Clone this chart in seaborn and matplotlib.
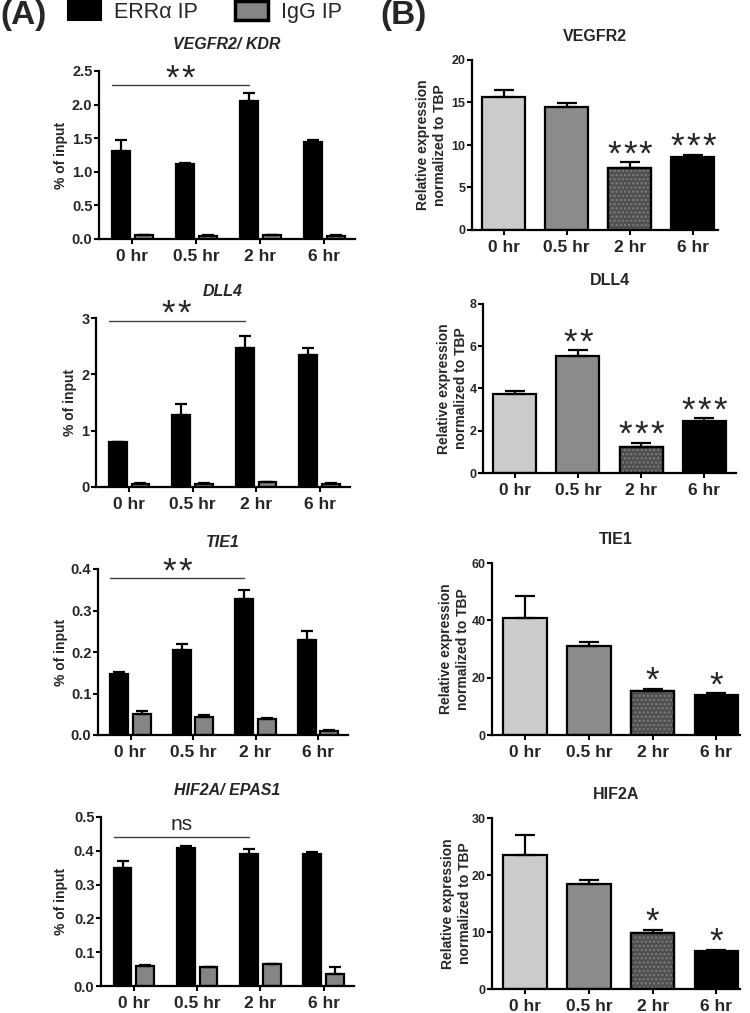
import numpy as np
import pandas as pd
import matplotlib
matplotlib.use("Agg")
import matplotlib.pyplot as plt
import matplotlib.patches as mpatches
from matplotlib.patches import Rectangle
from matplotlib.ticker import FormatStrFormatter
import seaborn as sns

# ---------------- data ----------------
times = ["0 hr", "0.5 hr", "2 hr", "6 hr"]
series = ["ERR\u03b1 IP", "IgG IP"]

# Panel A (ChIP, % of input)
chip_titles = ["VEGFR2/ KDR", "DLL4", "TIE1", "HIF2A/ EPAS1"]
vegfr2_errA = [1.31, 1.12, 2.05, 1.44]
vegfr2_errA_sem = [0.16, 0.01, 0.12, 0.04]
vegfr2_igg = [0.055, 0.045, 0.055, 0.050]
vegfr2_igg_sem = [0.008, 0.008, 0.008, 0.008]

dll4_errA = [0.79, 1.28, 2.47, 2.35]
dll4_errA_sem = [0.01, 0.19, 0.21, 0.12]
dll4_igg = [0.06, 0.06, 0.08, 0.06]
dll4_igg_sem = [0.01, 0.01, 0.01, 0.01]

tie1_errA = [0.146, 0.205, 0.328, 0.229]
tie1_errA_sem = [0.007, 0.014, 0.022, 0.022]
tie1_igg = [0.050, 0.044, 0.038, 0.010]
tie1_igg_sem = [0.009, 0.004, 0.002, 0.003]

hif2a_errA = [0.349, 0.407, 0.390, 0.390]
hif2a_errA_sem = [0.020, 0.008, 0.014, 0.007]
hif2a_igg = [0.058, 0.055, 0.064, 0.036]
hif2a_igg_sem = [0.003, 0.001, 0.002, 0.019]

chip_ymax = [2.5, 3, 0.4, 0.5]
chip_yticks = [[0, 0.5, 1.0, 1.5, 2.0, 2.5], [0, 1, 2, 3],
               [0, 0.1, 0.2, 0.3, 0.4], [0, 0.1, 0.2, 0.3, 0.4, 0.5]]
chip_fmt = ["%.1f", "%d", "%.1f", "%.1f"]
chip_sig_y = [2.29, 2.95, 0.378, 0.44]
chip_sig_text = ["**", "**", "**", "ns"]

# Panel B (qPCR, relative expression)
expr_titles = ["VEGFR2", "DLL4", "TIE1", "HIF2A"]
vegfr2_expr = [15.6, 14.5, 7.25, 8.55]
vegfr2_expr_sem = [0.9, 0.4, 0.7, 0.27]
dll4_expr = [3.74, 5.55, 1.24, 2.46]
dll4_expr_sem = [0.13, 0.25, 0.19, 0.12]
tie1_expr = [40.8, 30.9, 15.2, 14.0]
tie1_expr_sem = [7.8, 1.4, 0.9, 0.5]
hif2a_expr = [23.5, 18.4, 9.8, 6.7]
hif2a_expr_sem = [3.6, 0.8, 0.6, 0.2]

expr_ymax = [20, 8, 60, 30]
expr_yticks = [[0, 5, 10, 15, 20], [0, 2, 4, 6, 8], [0, 20, 40, 60], [0, 10, 20, 30]]
vegfr2_stars = ["", "", "***", "***"]
dll4_stars = ["", "**", "***", "***"]
tie1_stars = ["", "", "*", "*"]
hif2a_stars = ["", "", "*", "*"]

# ---------------- style ----------------
sns.set_theme(style="ticks")
plt.rcParams["font.family"] = ["Liberation Sans", "DejaVu Sans"]
plt.rcParams["font.weight"] = "bold"
plt.rcParams["axes.titleweight"] = "bold"
plt.rcParams["axes.labelweight"] = "bold"
plt.rcParams["hatch.linewidth"] = 1.2

W, H = 750, 1013
fig = plt.figure(figsize=(W / 100, H / 100), dpi=100)
fig.patch.set_facecolor("white")


def add_ax(left, top, right, bottom):
    return fig.add_axes([left / W, 1 - bottom / H, (right - left) / W, (bottom - top) / H])


ERR_COLOR = "#000000"
IGG_COLOR = "#858585"
EXPR_COLORS = ["#cbcbcb", "#8b8b8b", "#4e4e4e", "#000000"]
STAR_FS = 25
STAR_STEP = 11.5  # points between individual asterisks


def style_axes(ax, ymax, yticks, fmt, ytick_fs, width_px, label_gap_px):
    ax.set_ylim(0, ymax)
    ax.set_yticks(yticks)
    ax.yaxis.set_major_formatter(FormatStrFormatter(fmt))
    sns.despine(ax=ax)
    for s in ("left", "bottom"):
        ax.spines[s].set_linewidth(1.6)
        ax.spines[s].set_color("black")
    ax.tick_params(axis="both", width=1.5, length=3.5, color="black", direction="out")
    ax.tick_params(axis="y", labelsize=ytick_fs, pad=1.2)
    ax.tick_params(axis="x", labelsize=12.5, pad=3.5)
    ax.set_xlabel("")
    ax.yaxis.set_label_coords(-label_gap_px / width_px, 0.5)
    ax.set_facecolor("white")


def annot(ax, x, yc, text, fs=STAR_FS, off=0.47):
    if set(text) == {"*"}:
        n = len(text)
        for k in range(n):
            dx = (k - (n - 1) / 2) * STAR_STEP
            ax.annotate("*", xy=(x, yc), xytext=(dx, -off * fs), textcoords="offset points",
                        ha="center", va="baseline", fontsize=fs, fontweight="normal",
                        annotation_clip=False)
    else:
        ax.annotate(text, xy=(x, yc), xytext=(0, -off * fs), textcoords="offset points",
                    ha="center", va="baseline", fontsize=fs, fontweight="normal",
                    annotation_clip=False)


# ---------------- panel A ----------------
chip_data = [
    (vegfr2_errA, vegfr2_errA_sem, vegfr2_igg, vegfr2_igg_sem),
    (dll4_errA, dll4_errA_sem, dll4_igg, dll4_igg_sem),
    (tie1_errA, tie1_errA_sem, tie1_igg, tie1_igg_sem),
    (hif2a_errA, hif2a_errA_sem, hif2a_igg, hif2a_igg_sem),
]
chip_rects = [(99, 71, 355, 239), (96, 318, 350, 487), (98, 569, 348, 735), (101, 817, 354, 986)]
chip_label_gap = [31, 19, 30, 33]

for i, (ev, es, gv, gs) in enumerate(chip_data):
    l, t, r, b = chip_rects[i]
    ax = add_ax(l, t, r, b)
    df = pd.DataFrame({
        "time": times * 2,
        "series": [series[0]] * 4 + [series[1]] * 4,
        "value": list(ev) + list(gv),
    })
    sns.barplot(data=df, x="time", y="value", hue="series", order=times, hue_order=series,
                palette=[ERR_COLOR, IGG_COLOR], width=0.72, gap=0.22, edgecolor="black",
                linewidth=1.6, errorbar=None, legend=False, ax=ax, zorder=2)
    for cont, sems in zip(ax.containers, [es, gs]):
        xs = [p.get_x() + p.get_width() / 2 for p in cont]
        ys = [p.get_height() for p in cont]
        ax.errorbar(xs, ys, yerr=[np.zeros(len(sems)), sems], fmt="none", ecolor="black",
                    elinewidth=1.6, capsize=4.3, capthick=1.6, zorder=3)
    ax.set_xlim(-0.52, 3.48)
    style_axes(ax, chip_ymax[i], chip_yticks[i], chip_fmt[i], 10.5, r - l, chip_label_gap[i])
    ax.set_ylabel("% of input", fontsize=10)
    ax.set_title(chip_titles[i], fontsize=11.5, fontstyle="italic", pad=15.5)
    # significance bracket
    c0 = ax.containers[0]
    x0 = c0[0].get_x()
    x1 = c0[2].get_x() + c0[2].get_width() / 2
    ax.plot([x0, x1], [chip_sig_y[i]] * 2, color="#404040", lw=1.0, zorder=3)
    ym = chip_sig_y[i] + 0.078 * chip_ymax[i]
    if chip_sig_text[i] == "ns":
        annot(ax, (x0 + x1) / 2, ym, "ns", fs=15, off=0.26)
    else:
        annot(ax, (x0 + x1) / 2, ym, chip_sig_text[i])

# ---------------- panel B ----------------
expr_data = [
    (vegfr2_expr, vegfr2_expr_sem, vegfr2_stars),
    (dll4_expr, dll4_expr_sem, dll4_stars),
    (tie1_expr, tie1_expr_sem, tie1_stars),
    (hif2a_expr, hif2a_expr_sem, hif2a_stars),
]
expr_rects = [(472, 60, 718, 230), (483, 304, 736, 473), (492, 563, 740, 735), (492, 818, 740, 989)]
expr_xlim = [(-0.5, 3.4), (-0.5, 3.5), (-0.52, 3.37), (-0.52, 3.37)]
expr_label_gap = [25, 15, 22, 20]

for i, (vals, sems, stars) in enumerate(expr_data):
    l, t, r, b = expr_rects[i]
    ax = add_ax(l, t, r, b)
    sns.barplot(x=times, y=vals, hue=times, palette=EXPR_COLORS, width=0.68,
                edgecolor="black", linewidth=1.6, errorbar=None, legend=False, ax=ax, zorder=2)
    bars = [p for cont in ax.containers for p in cont]
    bars.sort(key=lambda p: p.get_x())
    xs = [p.get_x() + p.get_width() / 2 for p in bars]
    ys = [p.get_height() for p in bars]
    # dotted texture on the 2 hr bar
    p = bars[2]
    ax.add_patch(Rectangle((p.get_x(), 0), p.get_width(), p.get_height(), fill=False,
                           hatch="....", edgecolor="#7a7a7a", lw=0, zorder=2.1))
    ax.add_patch(Rectangle((p.get_x(), 0), p.get_width(), p.get_height(), fill=False,
                           edgecolor="black", lw=1.6, zorder=2.2))
    ax.errorbar(xs, ys, yerr=[np.zeros(len(sems)), sems], fmt="none", ecolor="black",
                elinewidth=1.6, capsize=7.5, capthick=1.6, zorder=3)
    ax.set_xlim(*expr_xlim[i])
    style_axes(ax, expr_ymax[i], expr_yticks[i], "%d", 9, r - l, expr_label_gap[i])
    ax.set_ylabel("Relative expression\nnormalized to TBP", fontsize=10, linespacing=1.25)
    ax.set_title(expr_titles[i], fontsize=11.5, pad=13.7)
    for x, y, s, e in zip(xs, ys, stars, sems):
        if s:
            annot(ax, x, y + e + 0.085 * expr_ymax[i], s)

# ---------------- legend & panel letters ----------------
handles = [mpatches.Patch(facecolor=ERR_COLOR, edgecolor="black", linewidth=1.5),
           mpatches.Patch(facecolor=IGG_COLOR, edgecolor="black", linewidth=2.5)]
fig.legend(handles, series, loc="center left", bbox_to_anchor=(68 / W, 1 - 12 / H),
           ncol=2, frameon=False, prop={"family": "Liberation Sans", "weight": "normal", "size": 15.5},
           handlelength=1.55, handleheight=1.0, handletextpad=0.6, columnspacing=1.7,
           borderpad=0, borderaxespad=0)

fig.text(0 / W, 1 - 0 / H, "(A)", fontsize=24, fontweight="bold", va="top", ha="left")
fig.text(380 / W, 1 - 0 / H, "(B)", fontsize=24, fontweight="bold", va="top", ha="left")

fig.savefig("out.png", dpi=100, facecolor="white")
